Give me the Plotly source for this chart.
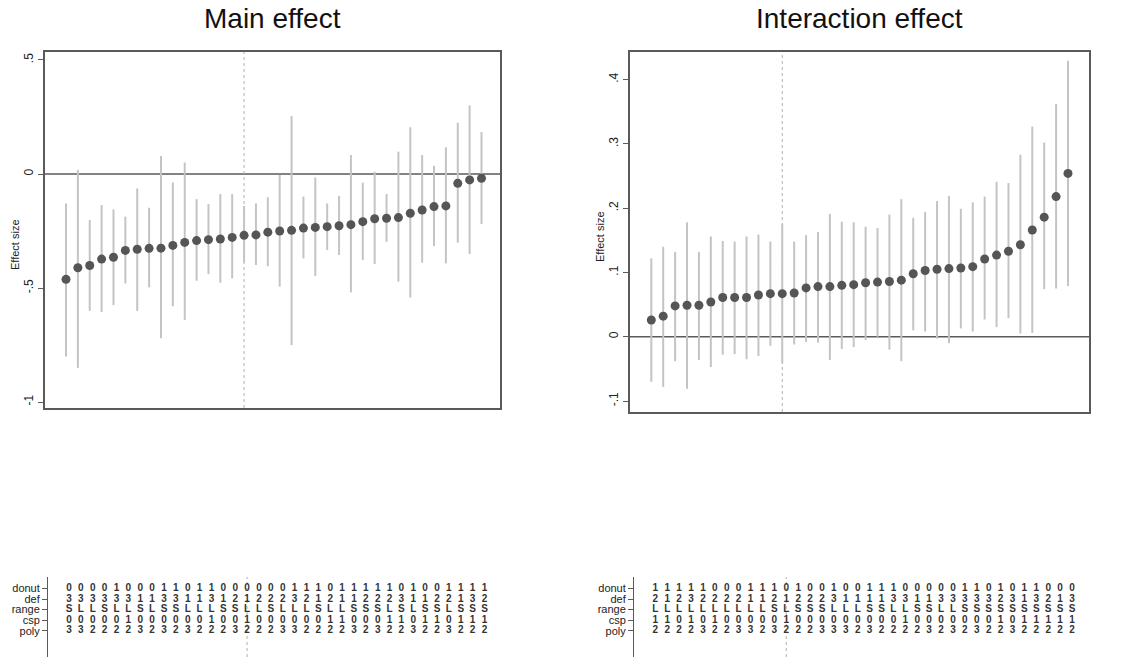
import plotly.graph_objects as go

W, H = 1125, 659

# ---------------- data ----------------
spec_idx = list(range(1, 37))

main_est = [-0.462, -0.411, -0.401, -0.373, -0.365, -0.335, -0.330, -0.326, -0.325, -0.313,
            -0.300, -0.292, -0.288, -0.285, -0.278, -0.269, -0.267, -0.255, -0.250, -0.247,
            -0.237, -0.234, -0.231, -0.227, -0.222, -0.209, -0.196, -0.194, -0.191, -0.172,
            -0.158, -0.143, -0.140, -0.041, -0.026, -0.019]
main_hi = [-0.129, 0.018, -0.202, -0.136, -0.155, -0.187, -0.063, -0.148, 0.079, -0.037,
           0.050, -0.110, -0.132, -0.088, -0.088, -0.140, -0.129, -0.102, -0.004, 0.254,
           -0.099, -0.015, -0.129, -0.096, 0.083, -0.038, 0.010, -0.088, 0.098, 0.205,
           0.083, 0.036, 0.117, 0.225, 0.301, 0.184]
main_lo = [-0.800, -0.850, -0.600, -0.605, -0.575, -0.480, -0.600, -0.497, -0.720, -0.580,
           -0.640, -0.468, -0.439, -0.477, -0.458, -0.387, -0.399, -0.404, -0.494, -0.750,
           -0.370, -0.447, -0.333, -0.355, -0.519, -0.377, -0.395, -0.297, -0.472, -0.542,
           -0.389, -0.316, -0.392, -0.301, -0.351, -0.219]

int_est = [0.026, 0.032, 0.048, 0.049, 0.049, 0.054, 0.061, 0.061, 0.061, 0.065,
           0.067, 0.067, 0.068, 0.076, 0.078, 0.078, 0.080, 0.081, 0.084, 0.085,
           0.086, 0.088, 0.098, 0.103, 0.105, 0.106, 0.107, 0.109, 0.121, 0.127,
           0.133, 0.143, 0.166, 0.186, 0.218, 0.254]
int_hi = [0.122, 0.140, 0.132, 0.178, 0.132, 0.156, 0.149, 0.148, 0.156, 0.159,
          0.148, 0.176, 0.148, 0.158, 0.163, 0.191, 0.179, 0.178, 0.171, 0.169,
          0.190, 0.214, 0.185, 0.194, 0.211, 0.219, 0.199, 0.209, 0.218, 0.241,
          0.239, 0.283, 0.327, 0.302, 0.362, 0.429]
int_lo = [-0.070, -0.078, -0.038, -0.081, -0.036, -0.047, -0.028, -0.027, -0.035, -0.030,
          -0.014, -0.041, -0.012, -0.008, -0.009, -0.036, -0.019, -0.016, -0.005, 0.000,
          -0.020, -0.038, 0.010, 0.008, -0.003, -0.010, 0.013, 0.008, 0.027, 0.015,
          0.029, 0.005, 0.006, 0.074, 0.075, 0.079]

# specification indicators (main effect)
main_donut = [0,0,0,0,1,0,0,0,1,1,0,1,1,0,0, 0,0,0,0,1,1,1,0,1,1,1,1,1,0,1,0,0,1,1,1,1]
main_def   = [3,3,3,3,3,3,1,1,3,3,1,1,3,1,2, 1,2,2,2,3,2,1,2,1,1,2,2,2,3,1,1,2,2,1,3,2]
main_range = list("SLLSLLSLSSLLLSS" + "LLSLLLSLLSSSLSLSSLSSS")
main_csp   = [0,0,0,0,0,1,0,0,0,0,0,0,1,0,0, 1,0,0,0,0,0,0,1,1,0,0,0,1,1,0,1,1,0,1,1,1]
main_poly  = [3,3,2,2,2,2,3,2,3,2,3,2,2,2,3, 2,2,2,3,3,2,2,2,2,3,2,3,2,2,3,2,2,3,2,2,2]

# specification indicators (interaction effect)
int_donut = [1,1,1,1,1,0,0,0,1,1,1,0,1,0,0,1, 0,0,1,1,1,0,0,0,0,0,1,1,0,1,0,1,1,0,0,0]
int_def   = [2,1,2,3,2,2,2,2,1,1,2,1,2,2,2,3, 1,1,1,1,3,3,1,1,3,3,3,3,3,2,3,1,3,2,1,3]
int_range = list("LLLLLLLLLLSLSSSL" + "LLSSLLSSLLSSSSSSSSSS")
int_csp   = [1,1,0,1,0,1,0,0,0,0,0,1,0,0,0,0, 0,0,0,0,0,1,0,0,0,0,0,0,0,1,0,1,1,1,1,1]
int_poly  = [2,2,2,2,3,2,2,3,3,2,3,2,2,2,3,3, 3,2,3,2,2,2,2,3,2,3,2,3,2,2,3,2,2,2,2,2]

row_names = ["donut", "def", "range", "csp", "poly"]
row_pos = [5, 4, 3, 2, 1]

main_ref = 16   # dotted reference specification
int_ref = 12

main_yticks = [0.5, 0, -0.5, -1]
main_ytext = [".5", "0", "-.5", "-1"]
int_yticks = [0.4, 0.3, 0.2, 0.1, 0, -0.1]
int_ytext = [".4", ".3", ".2", ".1", "0", "-.1"]

# ---------------- styling ----------------
FONT = "Liberation Sans, Arial, sans-serif"
PT_COL = "#555555"
CI_COL = "#c4c4c4"
AX_COL = "#5a5a5a"


def px_x(p):
    return p / W


def px_y(p):
    return 1 - p / H


fig = go.Figure()


def add_panel(n_top, n_tab, est, lo, hi, table, ref, xr, xdom, ydom, tdom_x, yr, yt, ytt,
              title, title_x, ylab_x, ylab_y):
    xa = "x" if n_top == 1 else f"x{n_top}"
    ya = "y" if n_top == 1 else f"y{n_top}"
    xt = f"x{n_tab}"
    yt_ = f"y{n_tab}"
    plus = [h - e for h, e in zip(hi, est)]
    minus = [e - l for e, l in zip(est, lo)]
    fig.add_trace(go.Scatter(
        x=spec_idx, y=est, mode="markers", xaxis=xa, yaxis=ya,
        marker=dict(color=PT_COL, size=9, line=dict(width=0)),
        error_y=dict(type="data", symmetric=False, array=plus, arrayminus=minus,
                     color=CI_COL, thickness=2, width=0),
        showlegend=False, hoverinfo="skip"))
    for vals, pos in zip(table, row_pos):
        fig.add_trace(go.Scatter(
            x=spec_idx, y=[pos] * len(spec_idx), mode="text",
            text=[str(v) for v in vals], xaxis=xt, yaxis=yt_,
            textfont=dict(family=FONT, size=10, color="#333333", weight="bold"),
            showlegend=False, hoverinfo="skip"))
    lay = fig.layout
    setattr(lay, "xaxis" if n_top == 1 else f"xaxis{n_top}", dict(
        domain=[px_x(xdom[0]), px_x(xdom[1])], range=xr, anchor=ya,
        showgrid=False, zeroline=False, showticklabels=False, ticks="",
        showline=True, mirror=True, linecolor=AX_COL, linewidth=1.5))
    setattr(lay, "yaxis" if n_top == 1 else f"yaxis{n_top}", dict(
        domain=[px_y(ydom[1]), px_y(ydom[0])], range=yr, anchor=xa,
        showgrid=False, zeroline=False, tickvals=yt, ticktext=ytt,
        tickangle=-90, ticks="outside", ticklen=5, tickcolor=AX_COL, tickwidth=1,
        tickfont=dict(family=FONT, size=12, color="#222222"),
        showline=True, mirror=True, linecolor=AX_COL, linewidth=1.5))
    setattr(lay, f"xaxis{n_tab}", dict(
        domain=[px_x(tdom_x[0]), px_x(tdom_x[1])], range=xr, anchor=yt_,
        showgrid=False, zeroline=False, showticklabels=False, ticks="",
        showline=False))
    setattr(lay, f"yaxis{n_tab}", dict(
        domain=[px_y(657), px_y(577)], range=[-1.5, 6.1], anchor=xt,
        showgrid=False, zeroline=False, tickvals=row_pos, ticktext=row_names,
        ticks="outside", ticklen=5, tickcolor=AX_COL, tickwidth=1,
        tickfont=dict(family=FONT, size=11, color="#222222"),
        showline=True, linecolor=AX_COL, linewidth=1))
    # zero line
    fig.add_shape(type="line", xref=f"{xa} domain", yref=ya, x0=0, x1=1, y0=0, y1=0,
                  line=dict(color=AX_COL, width=1.5), layer="below")
    # dotted reference line (top and table)
    fig.add_shape(type="line", xref=xa, yref=f"{ya} domain", x0=ref, x1=ref, y0=0, y1=1,
                  line=dict(color="#b0b0b0", width=1, dash="dot"), layer="below")
    fig.add_shape(type="line", xref=xt, yref=f"{yt_} domain", x0=ref, x1=ref, y0=0, y1=1,
                  line=dict(color="#b0b0b0", width=1, dash="dot"), layer="below")
    fig.add_annotation(text=title, x=px_x(title_x), y=px_y(19), xref="paper", yref="paper",
                       showarrow=False, xanchor="center", yanchor="middle",
                       font=dict(family=FONT, size=28, color="#111111"))
    fig.add_annotation(text="Effect size", x=px_x(ylab_x), y=px_y(ylab_y), xref="paper",
                       yref="paper", showarrow=False, textangle=-90, xanchor="center",
                       yanchor="middle", font=dict(family=FONT, size=11, color="#222222"))


add_panel(1, 2, main_est, main_lo, main_hi,
          [main_donut, main_def, main_range, main_csp, main_poly], main_ref,
          [-0.769, 37.558], (45, 500), (52, 408), (48, 503), [-1.026, 0.535],
          main_yticks, main_ytext, "Main effect", 272.5, 15, 245)

add_panel(3, 4, int_est, int_lo, int_hi,
          [int_donut, int_def, int_range, int_csp, int_poly], int_ref,
          [-0.789, 37.764], (630, 1089), (52, 412), (634, 1093), [-0.117, 0.4428],
          int_yticks, int_ytext, "Interaction effect", 859.5, 600, 237)

fig.update_layout(
    width=W, height=H, margin=dict(l=0, r=0, t=0, b=0),
    paper_bgcolor="white", plot_bgcolor="white",
    font=dict(family=FONT), showlegend=False)

fig.write_html("out.html", config={"displayModeBar": False},
               post_script="document.body.style.margin='0';document.body.style.overflow='hidden';")
